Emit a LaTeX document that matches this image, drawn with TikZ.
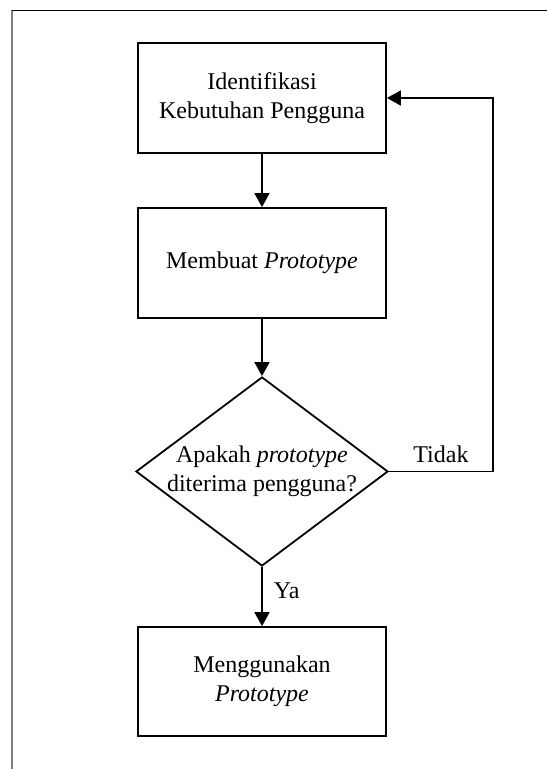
\documentclass[tikz,border=0pt,12pt]{standalone}
\usepackage{fontspec}
\setmainfont{Liberation Serif}
\usetikzlibrary{arrows.meta, shapes.geometric}
\tikzset{ proses/.style = {draw, line width=0.9pt, minimum width=124pt, minimum height=55pt, align=center},
  keputusan/.style = {draw, line width=0.9pt, diamond, aspect=1.4, inner xsep=-4pt, inner ysep=0pt, minimum width=126pt, minimum height=94.5pt, align=center},
  panah/.style = {line width=0.9pt, -{Triangle[length=7pt, width=7.5pt]}} }

\begin{document}
\begin{tikzpicture}[x=0.5pt, y=-0.5pt]
  \useasboundingbox (0,0) rectangle (547,769);
  % bingkai halaman
  \draw[gray, line width=0.6pt] (12,10.5) -- (12,769);
  \draw[line width=0.5pt] (12,10.5) -- (547,10.5);

  \path (262,98) node[proses] (ident) {Identifikasi\\Kebutuhan Pengguna}
      ++(0,165) node[proses] (buat) {Membuat \textit{Prototype}}
      ++(0,208.5) node[keputusan] (cek) {Apakah \textit{prototype}\\diterima pengguna?}
      ++(0,210) node[proses, minimum height=54.5pt] (guna) {Menggunakan\\\textit{Prototype}};
  \coordinate (balik) at (493,98);

  \draw[panah] (ident) -- (buat);
  \draw[panah] (buat) -- (cek);
  \draw[panah] (cek) -- node[right, pos=0.4, xshift=1.5pt] (ya) {Ya} (guna);
  \draw[panah] (cek.east) -- node[above] (tidak) {Tidak} (cek.east -| balik) -- (balik) -- (ident.east);
\end{tikzpicture}
\end{document}
